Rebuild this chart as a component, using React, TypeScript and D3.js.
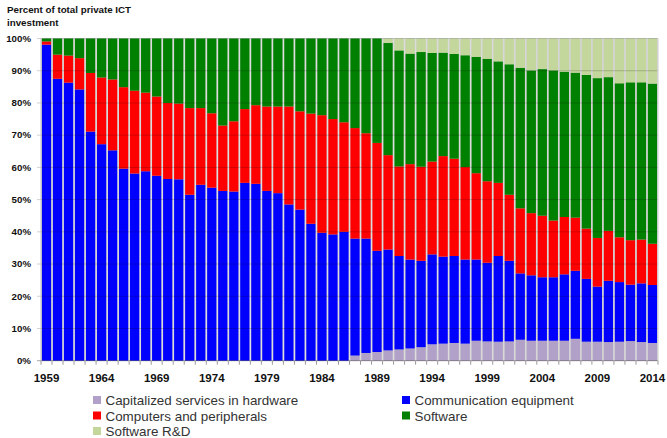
import React from "react";
import * as d3 from "d3";

const years: number[] = d3.range(1959, 2015);

const capitalizedServices: number[] = [
  0, 0, 0, 0, 0, 0, 0, 0, 0, 0, 0, 0, 0, 0, 0, 0, 0, 0, 0, 0, 0, 0, 0, 0, 0, 0, 0, 0,
  1.6, 2.4, 2.7, 3.2, 3.5, 3.8, 4.2, 5.1, 5.3, 5.5, 5.3, 6.2, 6.0, 5.9, 6.0, 6.5, 6.2, 6.2,
  6.2, 6.2, 6.8, 5.9, 5.9, 5.8, 5.9, 6.1, 5.8, 5.5,
];
const communication: number[] = [
  98.1, 87.5, 86.3, 84.2, 71.1, 67.2, 65.3, 59.6, 58.1, 58.8, 57.4, 56.4, 56.3, 51.5, 54.6, 53.7,
  52.7, 52.5, 55.2, 54.9, 52.7, 52.0, 48.5, 46.9, 42.5, 39.7, 39.2, 40.0,
  36.3, 35.5, 31.4, 31.3, 29.0, 27.6, 26.8, 27.9, 27.0, 27.0, 26.1, 25.2, 24.4, 26.6, 25.0, 20.6,
  20.3, 19.7, 19.7, 20.6, 21.1, 19.5, 17.1, 19.0, 18.5, 17.5, 18.2, 18.0,
];
const computers: number[] = [
  1.0, 7.5, 8.4, 9.7, 18.2, 20.7, 22.0, 25.3, 25.7, 24.4, 24.6, 23.6, 23.5, 26.9, 23.8, 23.1,
  20.3, 21.8, 22.9, 24.4, 26.2, 26.9, 30.4, 30.5, 34.2, 36.5, 35.8, 34.0,
  34.3, 32.7, 33.5, 29.3, 27.8, 29.6, 29.2, 28.8, 31.2, 30.2, 28.7, 26.8, 25.3, 22.7, 20.5, 20.2,
  19.3, 19.1, 17.6, 17.8, 16.5, 15.6, 15.1, 15.5, 13.9, 13.8, 13.6, 12.8,
];
const software: number[] = [
  0.9, 5.0, 5.3, 6.1, 10.7, 12.1, 12.7, 15.1, 16.2, 16.8, 18.0, 20.0, 20.2, 21.6, 21.6, 23.2,
  27.0, 25.7, 21.9, 20.7, 21.1, 21.1, 21.1, 22.6, 23.3, 23.8, 25.0, 26.0,
  27.8, 29.4, 32.4, 34.8, 36.0, 34.3, 35.6, 33.7, 32.1, 32.5, 34.7, 36.1, 38.0, 37.7, 40.5, 43.6,
  44.3, 45.5, 46.6, 45.1, 45.0, 47.7, 49.6, 47.7, 47.8, 49.0, 48.8, 49.7,
];
const softwareRD: number[] = [
  0, 0, 0, 0, 0, 0, 0, 0, 0, 0, 0, 0, 0, 0, 0, 0, 0, 0, 0, 0, 0, 0, 0, 0, 0, 0, 0, 0,
  0, 0, 0, 1.4, 3.7, 4.7, 4.2, 4.5, 4.4, 4.8, 5.2, 5.7, 6.3, 7.1, 8.0, 9.1,
  9.9, 9.5, 9.9, 10.3, 10.6, 11.3, 12.3, 12.0, 13.9, 13.6, 13.6, 14.0,
];

const seriesNames: string[] = [
  "Capitalized services in hardware",
  "Communication equipment",
  "Computers and peripherals",
  "Software",
  "Software R&D",
];
const seriesColors: string[] = ["#b1a0c7", "#0000ff", "#ff0000", "#008000", "#c3d69b"];
const yTicks: number[] = [0, 10, 20, 30, 40, 50, 60, 70, 80, 90, 100];
const xLabelYears: number[] = [1959, 1964, 1969, 1974, 1979, 1984, 1989, 1994, 1999, 2004, 2009, 2014];
const titleLines: string[] = ["Percent of total private ICT", "investment"];

const W = 667;
const H = 438;
const left = 41;
const right = 658;
const top = 38.5;
const bottom = 360.7;

export default function App() {
  const rows = years.map((yr, i) => ({
    year: yr,
    s0: capitalizedServices[i],
    s1: communication[i],
    s2: computers[i],
    s3: software[i],
    s4: softwareRD[i],
  }));
  const keys = ["s0", "s1", "s2", "s3", "s4"];
  const stacked = d3.stack<any>().keys(keys)(rows);

  const x = d3
    .scaleBand<number>()
    .domain(years)
    .range([left, right])
    .paddingInner(0.16)
    .paddingOuter(0.08);
  const y = d3.scaleLinear().domain([0, 100]).range([bottom, top]);
  const step = x.step();

  const font = "'Liberation Sans', Arial, sans-serif";

  const legendItems = [
    { i: 0, x: 93, y: 400.5 },
    { i: 1, x: 402, y: 400.5 },
    { i: 2, x: 93, y: 416 },
    { i: 3, x: 402, y: 416 },
    { i: 4, x: 93, y: 431.5 },
  ];

  return (
    <svg
      width={W}
      height={H}
      style={{ position: "absolute", left: 0, top: 0, background: "#fff" }}
      fontFamily={font}
    >
      {/* title */}
      {titleLines.map((t, i) => (
        <text key={t} x={7} y={12.7 + i * 13} fontSize={9.75} fontWeight="bold" fill="#111">
          {t}
        </text>
      ))}

      {/* bar shadows */}
      {years.map((yr) => (
        <rect
          key={"sh" + yr}
          x={(x(yr) as number) - 0.8}
          y={y(100)}
          width={x.bandwidth() + 1.8}
          height={y(0) - y(100)}
          fill="#d4d4d4"
        />
      ))}

      {/* bars */}
      {stacked.map((layer, li) => (
        <g key={"l" + li} fill={seriesColors[li]}>
          {layer.map((d: any, di: number) => {
            const h = y(d[0]) - y(d[1]);
            if (h <= 0.01) return null;
            return (
              <rect
                key={di}
                x={x(d.data.year) as number}
                y={y(d[1])}
                width={x.bandwidth()}
                height={h}
              />
            );
          })}
        </g>
      ))}

      {/* gridlines over bars */}
      {yTicks.map((t) => (
        <line
          key={"g" + t}
          x1={left - 4}
          x2={right}
          y1={y(t)}
          y2={y(t)}
          stroke="#000"
          strokeOpacity={t === 0 ? 0.35 : 0.18}
          strokeWidth={1}
        />
      ))}
      <line x1={left} x2={left} y1={top} y2={bottom} stroke="#bdbdbd" />
      <line x1={right} x2={right} y1={top} y2={bottom} stroke="#d0d0d0" />

      {/* x ticks */}
      {d3.range(years.length + 1).map((k) => (
        <line
          key={"xt" + k}
          x1={left + k * step}
          x2={left + k * step}
          y1={bottom}
          y2={bottom + 4}
          stroke="#999"
        />
      ))}

      {/* y labels */}
      {yTicks.map((t) => (
        <text
          key={"yl" + t}
          x={31}
          y={y(t) + 3.3}
          textAnchor="end"
          fontSize={9.7}
          fontWeight="bold"
          fill="#111"
        >
          {t + "%"}
        </text>
      ))}

      {/* x labels */}
      {xLabelYears.map((yr) => (
        <text
          key={"xl" + yr}
          x={(x(yr) as number) + x.bandwidth() / 2}
          y={382}
          textAnchor="middle"
          fontSize={11.5}
          fontWeight="bold"
          fill="#111"
        >
          {yr}
        </text>
      ))}

      {/* legend */}
      {legendItems.map((it) => (
        <g key={"lg" + it.i}>
          <rect x={it.x} y={it.y - 4.5} width={8} height={8} fill={seriesColors[it.i]} />
          <text x={it.x + 12.5} y={it.y + 4.7} fontSize={13.4} fill="#333">
            {seriesNames[it.i]}
          </text>
        </g>
      ))}
    </svg>
  );
}
